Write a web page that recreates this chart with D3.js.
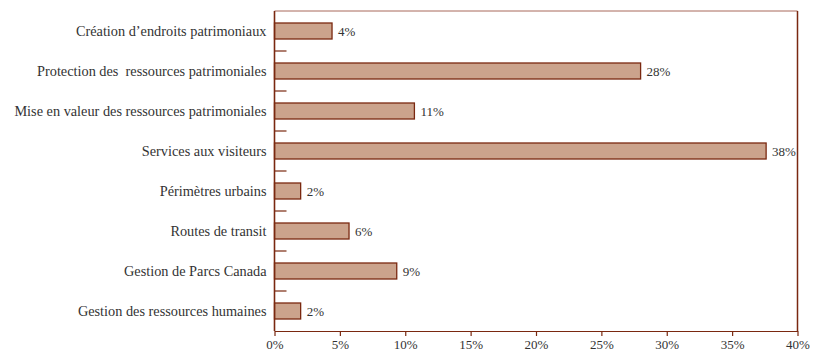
<!DOCTYPE html>
<html>
<head>
<meta charset="utf-8">
<script src="https://cdn.jsdelivr.net/npm/d3@7"></script>
<style>
  body { margin: 0; background: #fff; }
  text { font-family: "Liberation Serif", "Times New Roman", serif; font-size: 13px; fill: #333; }
  text.cat { font-size: 14.3px; white-space: pre; }
</style>
</head>
<body>
<div id="chart"></div>
<script>
const categories = [
  "Création d\u2019endroits patrimoniaux",
  "Protection des  ressources patrimoniales",
  "Mise en valeur des ressources patrimoniales",
  "Services aux visiteurs",
  "Périmètres urbains",
  "Routes de transit",
  "Gestion de Parcs Canada",
  "Gestion des ressources humaines"
]
const values = [4.4, 28.0, 10.7, 37.6, 2.0, 5.7, 9.35, 2.0]
const valueLabels = ["4%", "28%", "11%", "38%", "2%", "6%", "9%", "2%"]
const xTicks = [0, 5, 10, 15, 20, 25, 30, 35, 40]

const config = {
  "w": 824,
  "h": 354,
  "left": 274.5,
  "right": 797.5,
  "top": 11,
  "bottom": 331
}
const brown = "#7a2810"

const svg = d3.select("#chart")
              .append("svg")
              .attr("width", config.w)
              .attr("height", config.h)

const x_scale = d3.scaleLinear()
                  .domain([0, 40])
                  .range([config.left, config.right])

const y_scale = d3.scaleBand()
                  .domain(categories)
                  .range([config.top, config.bottom])
                  .paddingInner(0.6)
                  .paddingOuter(0.3)

// top border, lighter
svg.append("line")
   .attr("x1", config.left).attr("x2", config.right)
   .attr("y1", config.top).attr("y2", config.top)
   .attr("stroke", "#a8685a")
   .attr("stroke-width", 1)

// right border
svg.append("line")
   .attr("x1", config.right).attr("x2", config.right)
   .attr("y1", config.top).attr("y2", config.bottom)
   .attr("stroke", brown)
   .attr("stroke-width", 1.5)

// bottom axis
const xAxis = d3.axisBottom(x_scale)
                .tickValues(xTicks)
                .tickFormat(d => d + "%")
                .tickSize(5)
                .tickSizeOuter(0)

const gx = svg.append("g")
   .attr("transform", "translate(0," + config.bottom + ")")
   .call(xAxis)
gx.attr("font-family", null).attr("font-size", null)
gx.select(".domain").attr("stroke", brown).attr("stroke-width", 1.2)
gx.selectAll(".tick line").attr("stroke", brown).attr("stroke-width", 1.2)
gx.selectAll(".tick text")
  .attr("dy", "0.95em")
  .attr("y", 6)
  .attr("fill", "#333")

// separator ticks between categories
const gap = (y_scale.step() - y_scale.bandwidth()) / 2
svg.selectAll(".sep")
   .data(categories.slice(1))
   .enter()
   .append("line")
   .attr("class", "sep")
   .attr("x1", config.left)
   .attr("x2", config.left + 12)
   .attr("y1", c => y_scale(c) - gap)
   .attr("y2", c => y_scale(c) - gap)
   .attr("stroke", brown)
   .attr("stroke-width", 1.2)

// bars
svg.selectAll(".bar")
   .data(values)
   .enter()
   .append("rect")
   .attr("class", "bar")
   .attr("x", x_scale(0))
   .attr("y", (d, i) => y_scale(categories[i]))
   .attr("width", d => x_scale(d) - x_scale(0))
   .attr("height", y_scale.bandwidth())
   .attr("fill", "#cba38c")
   .attr("stroke", brown)
   .attr("stroke-width", 1.3)

// value labels
svg.selectAll(".val")
   .data(values)
   .enter()
   .append("text")
   .attr("class", "val")
   .attr("x", d => x_scale(d) + 6)
   .attr("y", (d, i) => y_scale(categories[i]) + y_scale.bandwidth() / 2)
   .attr("dy", "0.35em")
   .text((d, i) => valueLabels[i])

// category labels
svg.selectAll(".cat")
   .data(categories)
   .enter()
   .append("text")
   .attr("class", "cat")
   .attr("x", config.left - 8)
   .attr("y", c => y_scale(c) + y_scale.bandwidth() / 2)
   .attr("dy", "0.35em")
   .attr("text-anchor", "end")
   .text(c => c)

// left axis line
svg.append("line")
   .attr("x1", config.left).attr("x2", config.left)
   .attr("y1", config.top).attr("y2", config.bottom)
   .attr("stroke", brown)
   .attr("stroke-width", 1.6)
</script>
</body>
</html>
